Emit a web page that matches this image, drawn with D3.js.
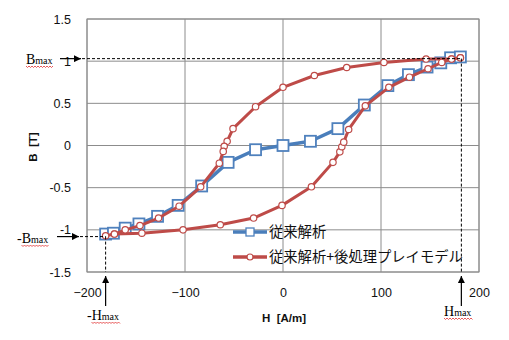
<!DOCTYPE html>
<html><head><meta charset="utf-8">
<script src="https://cdn.jsdelivr.net/npm/d3@7"></script>
<style>body{margin:0;background:#fff}svg{display:block}</style>
</head><body>
<svg id="c" width="509" height="340"></svg>
<script>
const xTicks = [-200, -100, 0, 100, 200];
const yTicks = [-1.5, -1, -0.5, 0, 0.5, 1, 1.5];
const seriesNames = ["従来解析", "従来解析+後処理プレイモデル"];
// 従来解析
const blueH = [-181,-173,-161,-147,-128,-107,-83,-56,-28,0,28,56,83,107,128,147,161,171,181];
const blueB = [-1.05,-1.04,-0.98,-0.93,-0.84,-0.71,-0.48,-0.2,-0.05,0,0.05,0.2,0.48,0.71,0.84,0.93,0.98,1.04,1.05];
// 従来解析+後処理プレイモデル (closed loop: descending branch then ascending branch)
const redH = [181,172,146,103,65,32,0,-28,-51,-57,-60,-61,-65,-84,-106,-127,-146,-161,-172,-181,
              -172,-144,-102,-64,-30,-1,29,51,58,60,62,67,84,108,129,148,162,172,181];
const redB = [1.04,1.025,1.025,0.985,0.925,0.83,0.69,0.46,0.2,0.05,-0.01,-0.07,-0.21,-0.49,-0.72,-0.86,-0.95,-1.0,-1.05,-1.07,
              -1.05,-1.04,-1.0,-0.94,-0.86,-0.71,-0.49,-0.2,-0.075,-0.015,0.04,0.19,0.47,0.69,0.81,0.91,0.985,1.025,1.04];
const Hmax = 182, Bmax = 1.03, nHmax = -181, nBmax = -1.08;

const svg = d3.select("#c");
const x = d3.scaleLinear().domain([-200, 200]).range([87, 479]);
const y = d3.scaleLinear().domain([-1.5, 1.5]).range([272, 19]);
const blue = "#4A7EBB", blueM = "#4F81BD", red = "#BE4B48";
const sans = "'Liberation Sans', Arial, sans-serif";
const serif = "'Liberation Serif', 'Times New Roman', serif";
const cjk = "'Noto Sans CJK JP', sans-serif";

// grid
const g = svg.append("g");
g.selectAll(".vx").data(xTicks).enter().append("line")
  .attr("x1", d => x(d)).attr("x2", d => x(d)).attr("y1", y(1.5)).attr("y2", y(-1.5))
  .attr("stroke", "#8c8c8c").attr("stroke-width", 1);
g.selectAll(".hy").data(yTicks).enter().append("line")
  .attr("y1", d => y(d)).attr("y2", d => y(d)).attr("x1", x(-200)).attr("x2", x(200))
  .attr("stroke", "#8c8c8c").attr("stroke-width", 1);

// axes with d3 axis generators (labels only)
const ax = svg.append("g").attr("transform", `translate(0,${y(-1.5)})`)
  .call(d3.axisBottom(x).tickValues(xTicks).tickSize(0).tickPadding(16).tickFormat(d3.format("d")));
const ay = svg.append("g").attr("transform", `translate(${x(-200)},0)`)
  .call(d3.axisLeft(y).tickValues(yTicks).tickSize(0).tickPadding(16).tickFormat(d => String(d)));
[ax, ay].forEach(a => {
  a.select(".domain").remove();
  a.selectAll("text").attr("font-family", sans).attr("font-size", 12.5).attr("fill", "#111");
});

// axis titles
svg.append("text").attr("x", 284).attr("y", 322).attr("text-anchor", "middle")
  .attr("font-family", sans).attr("font-weight", "bold").attr("font-size", 11.5).attr("fill", "#111")
  .attr("xml:space", "preserve").text("H  [A/m]");
svg.append("text").attr("transform", "translate(37,147) rotate(-90)").attr("text-anchor", "middle")
  .attr("font-family", sans).attr("font-weight", "bold").attr("font-size", 11.5).attr("fill", "#111")
  .attr("xml:space", "preserve").text("B  [T]");

// series
const line = d3.line().x(d => x(d[0])).y(d => y(d[1]));
const bluePts = blueH.map((h, i) => [h, blueB[i]]);
const redPts = redH.map((h, i) => [h, redB[i]]);

svg.append("path").datum(bluePts).attr("d", line).attr("fill", "none")
  .attr("stroke", blue).attr("stroke-width", 3.5).attr("stroke-linejoin", "round");
svg.selectAll(".bm").data(bluePts).enter().append("rect")
  .attr("x", d => x(d[0]) - 5.5).attr("y", d => y(d[1]) - 5.5).attr("width", 11).attr("height", 11)
  .attr("fill", "#fff").attr("stroke", blueM).attr("stroke-width", 1.8);

svg.append("path").datum(redPts).attr("d", line).attr("fill", "none")
  .attr("stroke", red).attr("stroke-width", 3).attr("stroke-linejoin", "round");
svg.selectAll(".rm").data(redPts).enter().append("circle")
  .attr("cx", d => x(d[0])).attr("cy", d => y(d[1])).attr("r", 3.2)
  .attr("fill", "#fff").attr("stroke", red).attr("stroke-width", 1.2);

// plot border
svg.append("rect").attr("x", x(-200)).attr("y", y(1.5)).attr("width", x(200) - x(-200)).attr("height", y(-1.5) - y(1.5))
  .attr("fill", "none").attr("stroke", "#8c8c8c").attr("stroke-width", 1);

// legend
const lg = [{y: 232, c: blue, m: "sq"}, {y: 257, c: red, m: "ci"}];
lg.forEach((d, i) => {
  svg.append("line").attr("x1", 233).attr("x2", 267).attr("y1", d.y).attr("y2", d.y)
    .attr("stroke", d.c).attr("stroke-width", 3.5);
  if (d.m === "sq") svg.append("rect").attr("x", 246).attr("y", d.y - 4).attr("width", 8).attr("height", 8)
    .attr("fill", "#fff").attr("stroke", blueM).attr("stroke-width", 1.3);
  else svg.append("circle").attr("cx", 250).attr("cy", d.y).attr("r", 3)
    .attr("fill", "#fff").attr("stroke", red).attr("stroke-width", 1.2);
  svg.append("text").attr("x", 269).attr("y", d.y + 5).attr("font-family", cjk).attr("font-size", 14.3)
    .attr("fill", "#111").text(seriesNames[i]);
});

// annotation: dashed guide lines
const dash = "3,2";
svg.append("line").attr("x1", 82).attr("x2", x(Hmax)).attr("y1", y(Bmax)).attr("y2", y(Bmax))
  .attr("stroke", "#000").attr("stroke-dasharray", dash);
svg.append("line").attr("x1", x(Hmax)).attr("x2", x(Hmax)).attr("y1", y(Bmax)).attr("y2", y(-1.5))
  .attr("stroke", "#000").attr("stroke-dasharray", dash);
svg.append("line").attr("x1", 80).attr("x2", x(nHmax)).attr("y1", y(nBmax)).attr("y2", y(nBmax))
  .attr("stroke", "#000").attr("stroke-dasharray", dash);
svg.append("line").attr("x1", x(nHmax)).attr("x2", x(nHmax)).attr("y1", y(nBmax)).attr("y2", y(-1.5))
  .attr("stroke", "#000").attr("stroke-dasharray", dash);

// arrows
svg.append("defs").append("marker").attr("id", "ah").attr("viewBox", "0 0 10 10")
  .attr("refX", 10).attr("refY", 5).attr("markerWidth", 7).attr("markerHeight", 7)
  .attr("markerUnits", "userSpaceOnUse").attr("orient", "auto")
  .append("path").attr("d", "M0,0L10,5L0,10Z").attr("fill", "#000");
function arrow(x1, y1, x2, y2) {
  svg.append("line").attr("x1", x1).attr("y1", y1).attr("x2", x2).attr("y2", y2)
    .attr("stroke", "#000").attr("stroke-width", 1.2).attr("marker-end", "url(#ah)");
}
arrow(60, y(Bmax), 81, y(Bmax));
arrow(57, y(nBmax), 79, y(nBmax));
arrow(x(nHmax), 306, x(nHmax), 276);
arrow(x(Hmax), 306, x(Hmax), 276);

// labels with wavy underline
function wavy(x0, x1, yy) {
  let p = `M${x0},${yy}`;
  for (let xx = x0, k = 0; xx < x1; xx += 1.5, k++) p += `L${xx + 1.5},${yy + (k % 2 ? 0 : 1.5)}`;
  svg.append("path").attr("d", p).attr("fill", "none").attr("stroke", "#e03030").attr("stroke-width", 0.8);
}
function label(xx, yy, pre, big) {
  const t = svg.append("text").attr("x", xx).attr("y", yy).attr("font-family", serif).attr("fill", "#000");
  t.append("tspan").attr("font-size", 14).text(pre + big);
  t.append("tspan").attr("font-size", 10).text("max");
  const w = t.node().getComputedTextLength();
  const start = xx + (pre ? 4.5 : 0);
  wavy(start, xx + w, yy + 2);
}
label(26, 64, "", "B");
label(17, 243, "-", "B");
label(87, 320, "-", "H");
label(444, 316, "", "H");
</script>
</body></html>
